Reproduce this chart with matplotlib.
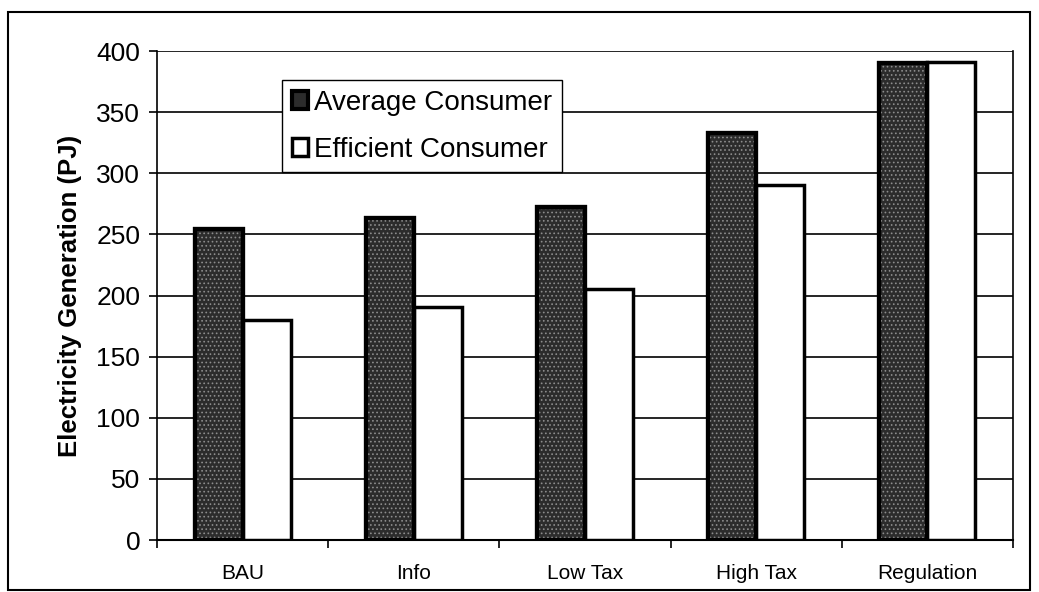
import matplotlib
matplotlib.use("Agg")
import matplotlib.pyplot as plt
from matplotlib.patches import Rectangle
import numpy as np

plt.rcParams['font.family'] = ['Liberation Sans', 'DejaVu Sans']
plt.rcParams['hatch.linewidth'] = 0.7

categories = ["BAU", "Info", "Low Tax", "High Tax", "Regulation"]
average_consumer = [254, 263, 272, 333, 390]
efficient_consumer = [180, 191, 205, 290, 391]
y_ticks = [0, 50, 100, 150, 200, 250, 300, 350, 400]

fig = plt.figure(figsize=(10.39, 5.92), dpi=100)
ax = fig.add_axes([157 / 1039, 1 - 540 / 592, (1013 - 157) / 1039, (540 - 51) / 592])

# outer chart frame
fig.patches.append(Rectangle((8 / 1039, 2 / 592), 1022 / 1039, 578 / 592,
                             transform=fig.transFigure, fill=False,
                             edgecolor="black", linewidth=1.5))

x = np.arange(len(categories))
w = 0.28
b1 = ax.bar(x - w / 2, average_consumer, w, color="#2c2c2c", edgecolor="black",
            linewidth=3, label="Average Consumer", zorder=3)
# speckled texture on the dark bars
ax.bar(x - w / 2, average_consumer, w, facecolor="none", edgecolor="#8c8c8c",
       linewidth=0, hatch="....", zorder=3.5)
ax.bar(x - w / 2, average_consumer, w, facecolor="none", edgecolor="black",
       linewidth=3, zorder=4)
b2 = ax.bar(x + w / 2, efficient_consumer, w, color="white", edgecolor="black",
            linewidth=2.5, label="Efficient Consumer", zorder=3)

ax.set_xlim(-0.5, len(categories) - 0.5)
ax.set_ylim(0, 400)
ax.set_yticks(y_ticks)
ax.set_yticklabels([str(v) for v in y_ticks], fontsize=19)
ax.yaxis.grid(True, color="black", linewidth=1.2, zorder=0)
ax.set_axisbelow(True)

ax.set_xticks(x)
ax.set_xticklabels(categories, fontsize=15)
ax.tick_params(axis="x", which="major", length=0, pad=17)
ax.set_xticks(np.arange(len(categories) + 1) - 0.5, minor=True)
ax.tick_params(axis="x", which="minor", length=6, width=1.2, direction="out")
ax.tick_params(axis="y", length=6, width=1.2, direction="out", pad=6)

for side in ["top", "right"]:
    ax.spines[side].set_visible(False)
ax.spines["left"].set_linewidth(1.2)
ax.spines["bottom"].set_linewidth(1.5)
ax.plot([1, 1], [0, 1], transform=ax.transAxes, color="black", linewidth=1.2, clip_on=False)

ax.set_ylabel("Electricity Generation (PJ)", fontsize=18.5, fontweight="bold", labelpad=10)

leg = ax.legend(handles=[b1, b2], loc="upper left",
                bbox_to_anchor=((282 - 157) / 856, (540 - 80) / 489),
                fontsize=20, frameon=True, fancybox=False, framealpha=1,
                edgecolor="black", borderpad=0.35, handlelength=0.6, handleheight=0.6,
                handletextpad=0.2, labelspacing=0.75, borderaxespad=0)
leg.get_frame().set_linewidth(1.0)
leg.set_zorder(5)

fig.savefig("out.png", dpi=100)
